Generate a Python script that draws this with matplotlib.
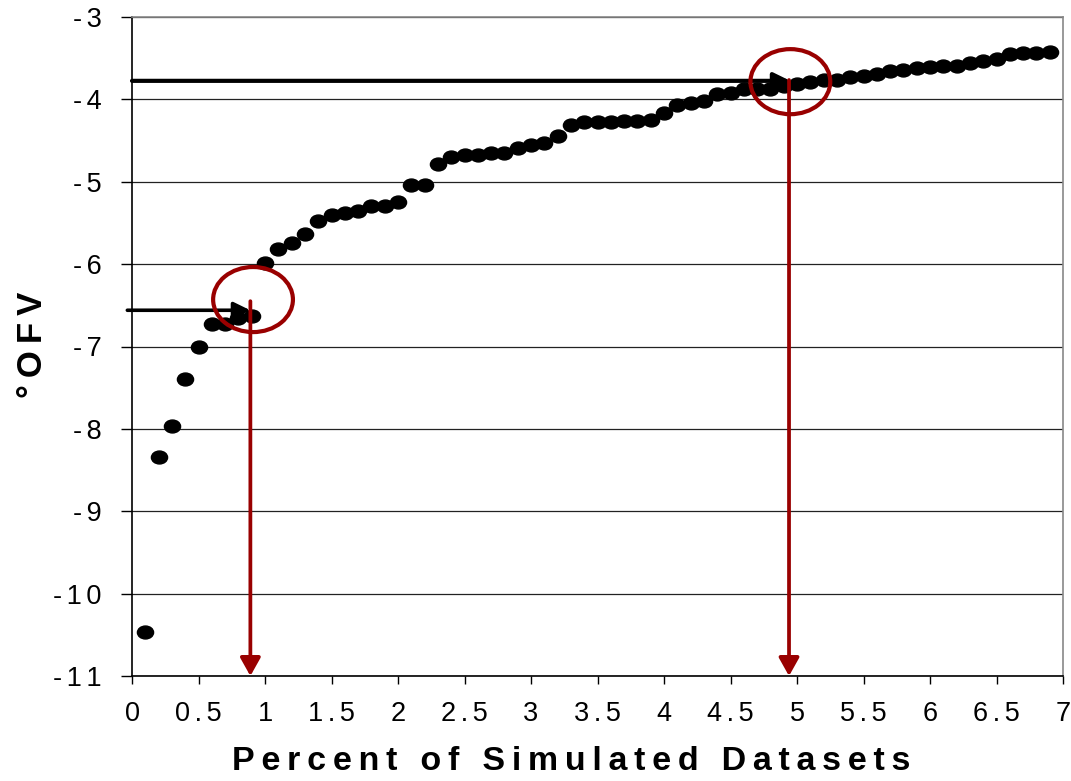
import numpy as np
import matplotlib
matplotlib.use('Agg')
import matplotlib.pyplot as plt
from matplotlib.markers import MarkerStyle
from matplotlib.transforms import Affine2D
from matplotlib.patches import Ellipse

plt.rcParams['font.family'] = ['Liberation Sans', 'DejaVu Sans']

# percent of simulated datasets vs delta OFV
pct = [0.1, 0.2, 0.3, 0.4, 0.5, 0.6, 0.7, 0.8, 0.9, 1.0,
       1.1, 1.2, 1.3, 1.4, 1.5, 1.6, 1.7, 1.8, 1.9, 2.0,
       2.1, 2.2, 2.3, 2.4, 2.5, 2.6, 2.7, 2.8, 2.9, 3.0,
       3.1, 3.2, 3.3, 3.4, 3.5, 3.6, 3.7, 3.8, 3.9, 4.0,
       4.1, 4.2, 4.3, 4.4, 4.5, 4.6, 4.7, 4.8, 4.9, 5.0,
       5.1, 5.2, 5.3, 5.4, 5.5, 5.6, 5.7, 5.8, 5.9, 6.0,
       6.1, 6.2, 6.3, 6.4, 6.5, 6.6, 6.7, 6.8, 6.9]
dofv = [-10.47, -8.34, -7.97, -7.40, -7.00, -6.73, -6.73, -6.65, -6.63, -5.99,
        -5.82, -5.74, -5.64, -5.48, -5.40, -5.38, -5.36, -5.29, -5.29, -5.25,
        -5.04, -5.04, -4.78, -4.70, -4.68, -4.67, -4.65, -4.65, -4.59, -4.55,
        -4.53, -4.44, -4.31, -4.27, -4.27, -4.27, -4.26, -4.26, -4.25, -4.16,
        -4.07, -4.04, -4.02, -3.93, -3.92, -3.88, -3.87, -3.87, -3.84, -3.81,
        -3.79, -3.76, -3.76, -3.73, -3.72, -3.69, -3.66, -3.64, -3.62, -3.61,
        -3.60, -3.59, -3.56, -3.53, -3.51, -3.45, -3.44, -3.44, -3.42]

xticks = [0, 0.5, 1, 1.5, 2, 2.5, 3, 3.5, 4, 4.5, 5, 5.5, 6, 6.5, 7]
yticks = [-3, -4, -5, -6, -7, -8, -9, -10, -11]

# cutoffs marked on the chart: (percent, dOFV)
cut_1 = (0.89, -6.56)
cut_2 = (4.94, -3.775)
circ_1 = (0.91, -6.43)
circ_2 = (4.95, -3.785)

red = '#990000'


def spaced(s, sep='\u2009'):
    return sep.join(s)


fig = plt.figure(figsize=(10.71, 7.81), dpi=100)
ax = fig.add_axes([132 / 1071, 1 - 676 / 781, (1063 - 132) / 1071, (676 - 17) / 781])

ax.set_xlim(0, 7)
ax.set_ylim(-11, -3)
ax.set_yticks(yticks)
ax.set_yticklabels([spaced(str(v), '\u2006') for v in yticks])
ax.set_xticks(xticks)
ax.set_xticklabels([spaced('%g' % v, '\u2006') for v in xticks])
ax.tick_params(axis='y', direction='out', length=8, width=1, pad=14, labelsize=19.5)
ax.tick_params(axis='x', direction='out', length=6, width=1, pad=12, labelsize=19.5)

ax.grid(axis='y', color='#222222', linewidth=0.9)
ax.set_axisbelow(True)
for s in ['left', 'bottom']:
    ax.spines[s].set_color('black')
    ax.spines[s].set_linewidth(1.2)
for s in ['top', 'right']:
    ax.spines[s].set_color('#888888')
    ax.spines[s].set_linewidth(1.2)

mk = MarkerStyle('o', transform=Affine2D().scale(1.25, 1.0))
ax.plot(pct, dofv, linestyle='none', marker=mk, markersize=9.3,
        color='black', zorder=3)

# horizontal black arrows from the y axis
ax.annotate('', xy=cut_1, xytext=(-0.035, cut_1[1]),
            arrowprops=dict(arrowstyle='-|>,head_length=0.45,head_width=0.22',
                            mutation_scale=22, lw=2.6, color='black',
                            shrinkA=0, shrinkB=0),
            annotation_clip=False, zorder=4)
ax.annotate('', xy=(cut_2[0] + 0.01, cut_2[1]), xytext=(0, cut_2[1]),
            arrowprops=dict(arrowstyle='-|>,head_length=0.45,head_width=0.22',
                            mutation_scale=22, lw=3, color='black',
                            shrinkA=0, shrinkB=0),
            annotation_clip=False, zorder=4)

# red circles
for c in [circ_1, circ_2]:
    ax.add_patch(Ellipse(c, width=0.6, height=0.79, fill=False,
                         edgecolor=red, lw=3, zorder=5))

# red arrows down to the x axis
ax.annotate('', xy=(cut_1[0], -11), xytext=(cut_1[0], -6.45),
            arrowprops=dict(arrowstyle='-|>,head_length=0.5,head_width=0.28',
                            mutation_scale=22, lw=2.7, color=red,
                            shrinkA=0, shrinkB=0),
            annotation_clip=False, zorder=6)
ax.annotate('', xy=(cut_2[0], -11), xytext=(cut_2[0], -3.765),
            arrowprops=dict(arrowstyle='-|>,head_length=0.5,head_width=0.28',
                            mutation_scale=22, lw=2.7, color=red,
                            shrinkA=0, shrinkB=0),
            annotation_clip=False, zorder=6)

fig.text(571 / 1071, 1 - 762 / 781, spaced('Percent of Simulated Datasets'),
         ha='center', va='center', fontsize=24.5, fontweight='bold')
fig.text(33 / 1071, 1 - 345 / 781, spaced('°OFV'), rotation=90,
         ha='center', va='center', fontsize=25, fontweight='bold')

fig.savefig('out.png', dpi=100)
